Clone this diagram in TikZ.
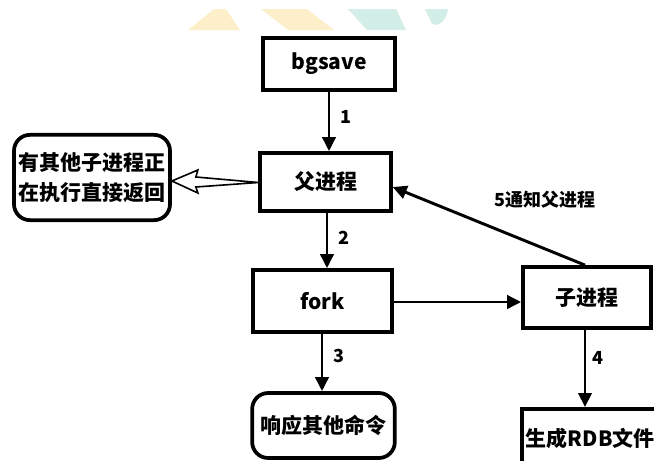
\documentclass[tikz,border=0pt]{standalone}
\usepackage{fontspec}
\setmainfont{Noto Sans CJK SC}
\usetikzlibrary{arrows.meta,calc}
\definecolor{wmyellow}{HTML}{FCEFC9}
\definecolor{wmteal}{HTML}{D3EEE7}
\begin{document}
\begin{tikzpicture}[x=0.75pt,y=-0.75pt,
  font=\bfseries\fontsize{15.75}{22.5}\selectfont,
  box/.style={draw, line width=2.8pt, fill=white, inner sep=0pt},
  rbox/.style={box, rounded corners=12pt},
  arr/.style={line width=2.2pt, -{Triangle[length=10.5pt,width=10pt]}},
  lab/.style={font=\bfseries\fontsize{13.5}{16}\selectfont, inner sep=0pt}]
\clip (0,0) rectangle (654,461);
\fill[white] (0,0) rectangle (654,461);
% watermark
\fill[wmyellow] (188,30) -- (214,9) -- (226,9) -- (240,30) -- cycle;
\fill[wmyellow] (261,9) -- (307,9) -- (334,30) -- (288,30) -- cycle;
\fill[wmteal] (348,9) -- (396,9) -- (406,30) -- (367,30) -- cycle;
\fill[wmteal] (425,9) -- (448,9) .. controls (446,22) and (438,27) .. (432,24) -- cycle;
% nodes
\node[box, minimum width=99pt, minimum height=39pt] (bg) at (329,64) {bgsave};
\node[box, minimum width=98pt, minimum height=43.5pt] (fu) at (325.5,182) {父进程};
\node[box, minimum width=104pt, minimum height=46.5pt] (fk) at (322.5,301) {fork};
\node[box, minimum width=96pt, minimum height=45.75pt] (zi) at (587,297.5) {子进程};
\node[rbox, minimum width=107pt, minimum height=48.75pt] (resp) at (323.5,425.5) {响应其他命令};
\node[rbox, minimum width=117pt, minimum height=64pt, align=center] (left) at (92,177.5) {有其他子进程正\\在执行直接返回};
\node[box, anchor=north west, minimum height=45pt, text width=106pt, inner xsep=3pt, align=left] (rdb) at (520,407) {生成RDB文件};
% connector end points
\coordinate (s2) at ($(fu.south)+(1.5,0)$);
\coordinate (s3) at ($(fk.south)+(-0.5,0)$);
\coordinate (sf) at ($(fk.east)+(0,1)$);
\coordinate (s5) at ($(zi.north)+(-2,0)$);
\coordinate (e5) at ($(fu.east)+(0,5)$);
\coordinate (s4) at ($(zi.south)+(-2,0)$);
% connectors
\draw[arr] (bg.south) -- (bg.south |- fu.north);
\draw[arr] (s2) -- (s2 |- fk.north);
\draw[arr] (s3) -- (s3 |- resp.north);
\draw[arr] (sf) -- (sf -| zi.west);
\draw[arr] (s5) -- (e5);
\draw[arr] (s4) -- (s4 |- rdb.north);
\draw[line width=1.2pt, fill=white, line join=miter]
  ($(left.east)+(0,3.5)$) -- ++(26,-11) -- ++(-2,7) -- ($(fu.west)+(0,0.5)$)
  -- ($(left.east)+(24,9.5)$) -- ++(2,6) -- cycle;
% labels
\node[lab] (l1) at (346,117) {1};
\node[lab] (l2) at (344,238) {2};
\node[lab] (l3) at (339,356) {3};
\node[lab] (l4) at (598,358) {4};
\node[lab] (l5) at (545,200) {5通知父进程};
\end{tikzpicture}
\end{document}
